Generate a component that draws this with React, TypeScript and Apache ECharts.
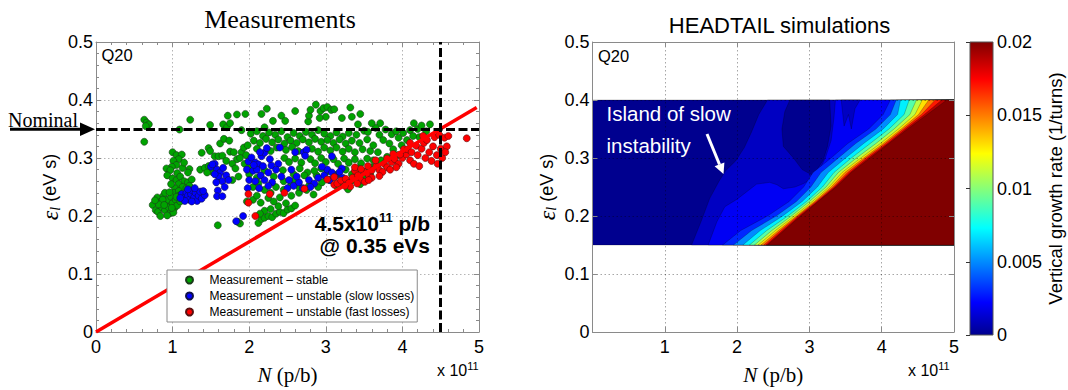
import React, { useEffect, useRef } from 'react';
import * as echarts from 'echarts';

const SANS = '"Liberation Sans", Arial, Helvetica, sans-serif';
const SERIF = '"Liberation Serif", "Times New Roman", Times, serif';

// ---------- Left panel: measurements (N in 1e11 p/b, emittance in eVs) ----------
const greenStable: number[][] = [
  [0.63, 0.366], [0.66, 0.361], [0.69, 0.358], [0.65, 0.355], [0.63, 0.328],
  [1.09, 0.349], [1.23, 0.366], [1.49, 0.357], [1.66, 0.358], [1.71, 0.353], [1.75, 0.36], [1.72, 0.373],
  [1.84, 0.375], [1.95, 0.376], [1.9, 0.348],
  [2.16, 0.376], [2.23, 0.385], [2.31, 0.364], [2.42, 0.373], [2.47, 0.364], [2.6, 0.381], [2.77, 0.363],
  [2.78, 0.373], [2.8, 0.383], [2.87, 0.392], [2.93, 0.381], [2.97, 0.386], [3.02, 0.388], [3.07, 0.383],
  [3.11, 0.384], [3.0, 0.371], [2.92, 0.369], [3.21, 0.369], [3.32, 0.387], [3.34, 0.371], [3.45, 0.376],
  [2.2, 0.353], [3.71, 0.36], [3.42, 0.358],
  [1.0, 0.31], [1.05, 0.305], [1.12, 0.306], [1.08, 0.298], [1.01, 0.295], [1.05, 0.288], [0.99, 0.285],
  [0.92, 0.282], [0.97, 0.279], [1.13, 0.283], [1.22, 0.281], [1.2, 0.275], [0.93, 0.27], [1.06, 0.274], [1.15, 0.292],
  [1.38, 0.309], [1.47, 0.317], [1.49, 0.312], [1.55, 0.303], [1.6, 0.303], [1.65, 0.304], [1.62, 0.325],
  [1.67, 0.333], [1.74, 0.33], [1.75, 0.311], [1.84, 0.298], [1.36, 0.28], [1.42, 0.283], [1.47, 0.286],
  [1.52, 0.276], [1.45, 0.275],
  [1.0, 0.265], [1.05, 0.262], [1.1, 0.268], [1.15, 0.26], [1.2, 0.258], [1.25, 0.263], [1.08, 0.255],
  [1.13, 0.25], [1.18, 0.248], [1.03, 0.248], [0.98, 0.255], [1.22, 0.252], [1.02, 0.24], [1.08, 0.243],
  [0.74, 0.219], [0.78, 0.21], [0.8, 0.232], [0.81, 0.207], [0.85, 0.225], [0.86, 0.215], [0.88, 0.235],
  [0.9, 0.21], [0.92, 0.22], [0.94, 0.228], [0.95, 0.215], [0.97, 0.205], [0.98, 0.233], [1.0, 0.222],
  [1.02, 0.213], [1.04, 0.228], [1.06, 0.218], [1.08, 0.235], [1.1, 0.225], [0.9, 0.24], [0.84, 0.2],
  [0.93, 0.201], [1.01, 0.206], [0.87, 0.228], [0.96, 0.241], [0.82, 0.22], [0.77, 0.227], [1.05, 0.233],
  [0.99, 0.214], [0.89, 0.219],
  [1.9, 0.31], [1.93, 0.318], [1.96, 0.305], [1.98, 0.322], [1.94, 0.29], [1.99, 0.283], [1.88, 0.3],
  [1.8, 0.31], [1.78, 0.29], [1.7, 0.295], [1.82, 0.282], [1.86, 0.268], [1.78, 0.262],
  [1.59, 0.184], [1.88, 0.187], [1.85, 0.19], [2.12, 0.188], [2.16, 0.195], [2.2, 0.197], [2.25, 0.2],
  [2.3, 0.198], [2.35, 0.204], [2.4, 0.207], [2.45, 0.205], [2.5, 0.211], [2.55, 0.213], [2.6, 0.218],
  [2.2, 0.209], [2.28, 0.212], [2.38, 0.217], [2.14, 0.204], [2.48, 0.222],
  [1.97, 0.225], [2.05, 0.228], [2.15, 0.223], [2.25, 0.231], [2.1, 0.235], [2.32, 0.225], [2.4, 0.232],
  [2.55, 0.235], [2.65, 0.24], [2.75, 0.245], [2.84, 0.237], [2.9, 0.25],
  [2.02, 0.342], [2.1, 0.346], [2.18, 0.338], [2.26, 0.344], [2.34, 0.34], [2.42, 0.346], [2.5, 0.336],
  [2.58, 0.343], [2.66, 0.338], [2.74, 0.345], [2.82, 0.34], [2.9, 0.348], [2.98, 0.342], [3.06, 0.338],
  [3.14, 0.344], [3.22, 0.337], [3.3, 0.343], [3.4, 0.34], [3.5, 0.347],
  [2.06, 0.33], [2.14, 0.326], [2.22, 0.333], [2.3, 0.327], [2.38, 0.332], [2.46, 0.325], [2.54, 0.33],
  [2.62, 0.326], [2.7, 0.332], [2.78, 0.327], [2.86, 0.333], [2.94, 0.328], [3.02, 0.331], [3.1, 0.326],
  [3.18, 0.332], [3.26, 0.325], [3.34, 0.33], [3.44, 0.326], [3.54, 0.332],
  [2.1, 0.316], [2.28, 0.312], [2.36, 0.318], [2.48, 0.314], [2.56, 0.319], [2.64, 0.312], [2.82, 0.316],
  [2.9, 0.311], [2.98, 0.318], [3.06, 0.313], [3.14, 0.318], [3.22, 0.311], [3.3, 0.316], [3.38, 0.31],
  [3.48, 0.315], [3.58, 0.312],
  [2.46, 0.3], [2.52, 0.293], [2.6, 0.299], [2.68, 0.292], [2.8, 0.298], [2.86, 0.291], [2.94, 0.3],
  [3.0, 0.293], [3.1, 0.298], [3.16, 0.29], [3.24, 0.299], [3.3, 0.292], [3.38, 0.298], [3.46, 0.291],
  [3.54, 0.299], [3.62, 0.296],
  [2.44, 0.279], [2.58, 0.272], [2.66, 0.282], [2.76, 0.275], [2.88, 0.27], [2.94, 0.282], [3.02, 0.277],
  [3.14, 0.271], [3.26, 0.28], [3.34, 0.272], [3.42, 0.282], [3.52, 0.276], [3.6, 0.284], [3.68, 0.289],
  [3.55, 0.345], [3.65, 0.352], [3.7, 0.34], [3.78, 0.349], [3.86, 0.341], [3.92, 0.346], [3.75, 0.331],
  [3.83, 0.325], [3.95, 0.335], [4.01, 0.343], [4.06, 0.331], [3.62, 0.322], [3.68, 0.31], [3.8, 0.302],
  [3.88, 0.315], [3.93, 0.305], [3.72, 0.296], [4.2, 0.35], [4.25, 0.356], [4.31, 0.346], [4.15, 0.36],
  [4.1, 0.348], [4.22, 0.336], [4.36, 0.358], [3.99, 0.322], [4.14, 0.338], [3.6, 0.36],
  [3.29, 0.246], [2.95, 0.258], [3.05, 0.262], [3.2, 0.258], [3.35, 0.262], [3.48, 0.268], [3.45, 0.255],
  [3.15, 0.25], [3.58, 0.272],
  [2.0, 0.272], [2.1, 0.266], [2.2, 0.279], [2.32, 0.268], [2.45, 0.26], [2.55, 0.255], [2.65, 0.25],
  [2.78, 0.252], [2.35, 0.25], [2.2, 0.245], [2.05, 0.25], [2.12, 0.256], [2.28, 0.24], [2.45, 0.245],
  [2.6, 0.262], [2.72, 0.27], [2.85, 0.278],
];

const blueSlow: number[][] = [
  [1.12, 0.238], [1.15, 0.232], [1.18, 0.24], [1.2, 0.235], [1.22, 0.228], [1.24, 0.238], [1.26, 0.244],
  [1.28, 0.232], [1.3, 0.24], [1.32, 0.226], [1.34, 0.235], [1.36, 0.242], [1.38, 0.23], [1.42, 0.236],
  [1.2, 0.246], [1.25, 0.225], [1.29, 0.248], [1.16, 0.226], [1.4, 0.243], [1.1, 0.231],
  [1.5, 0.285], [1.55, 0.29], [1.58, 0.28], [1.62, 0.275], [1.66, 0.283], [1.6, 0.268], [1.65, 0.26],
  [1.7, 0.27], [1.73, 0.262], [1.55, 0.272], [1.52, 0.289], [1.59, 0.244], [1.58, 0.234], [1.65, 0.234],
  [1.68, 0.25], [1.57, 0.258],
  [1.83, 0.191], [1.92, 0.2],
  [1.99, 0.294], [2.03, 0.301], [2.08, 0.292], [2.12, 0.289], [2.16, 0.303], [2.18, 0.286], [2.2, 0.309],
  [2.23, 0.317], [2.29, 0.287], [2.38, 0.29], [2.4, 0.318], [1.97, 0.28], [2.0, 0.262], [2.05, 0.278],
  [2.1, 0.28], [2.15, 0.27], [2.2, 0.262], [2.25, 0.275], [2.3, 0.258], [2.35, 0.28], [2.42, 0.268],
  [1.98, 0.248], [2.08, 0.26], [2.13, 0.248], [2.25, 0.252], [2.27, 0.298], [2.14, 0.31], [2.06, 0.288],
  [2.55, 0.28], [2.6, 0.31], [2.71, 0.31], [2.75, 0.314], [2.73, 0.304], [2.52, 0.262], [2.58, 0.252],
  [2.65, 0.258], [2.7, 0.248], [2.78, 0.262], [2.85, 0.256], [2.9, 0.266], [2.62, 0.268], [2.8, 0.25],
  [2.5, 0.248],
  [3.08, 0.303], [3.21, 0.282], [2.98, 0.27], [3.02, 0.28], [3.08, 0.275], [3.12, 0.268], [3.18, 0.276],
  [3.22, 0.266], [3.05, 0.262], [2.95, 0.285],
];

const redFast: number[][] = [
  [1.99, 0.238], [1.99, 0.223], [2.08, 0.2], [2.27, 0.238], [2.46, 0.24], [2.72, 0.247], [3.02, 0.263],
  [3.11, 0.267], [3.11, 0.254], [3.38, 0.278], [3.38, 0.284],
  [3.15, 0.256], [3.2, 0.261], [3.26, 0.264], [3.3, 0.257], [3.35, 0.266], [3.42, 0.27], [3.46, 0.262],
  [3.5, 0.276], [3.56, 0.27], [3.6, 0.279], [3.66, 0.286], [3.7, 0.279], [3.76, 0.29], [3.8, 0.284],
  [3.86, 0.293], [3.9, 0.298], [3.95, 0.29], [4.0, 0.3], [4.05, 0.306], [3.46, 0.281], [3.55, 0.286],
  [3.65, 0.296], [3.74, 0.276], [3.84, 0.28], [3.6, 0.266], [3.51, 0.259], [3.41, 0.256], [3.32, 0.251],
  [3.7, 0.269], [3.8, 0.299], [3.92, 0.284], [4.1, 0.296], [3.25, 0.252], [3.56, 0.262], [3.97, 0.306],
  [3.88, 0.307], [4.02, 0.315],
  [4.07, 0.315], [4.12, 0.31], [4.18, 0.321], [4.1, 0.326], [4.2, 0.305], [4.25, 0.316], [4.3, 0.3],
  [4.28, 0.326], [4.35, 0.31], [4.4, 0.32], [4.38, 0.295], [4.45, 0.305], [4.5, 0.316], [4.42, 0.336],
  [4.48, 0.34], [4.55, 0.335], [4.52, 0.3], [4.58, 0.32], [4.46, 0.29], [4.56, 0.31], [4.15, 0.29],
  [4.22, 0.286], [4.32, 0.331], [4.84, 0.334], [4.6, 0.338], [4.27, 0.338],
];

const thresholdN = [0, 4.97];
const thresholdEps = [0, 0.387];
const nominalEps = 0.35;
const limitN = 4.5;

// ---------- Right panel: HEADTAIL contour (growth rate levels of 0.001 1/turn) ----------
const levelStep = 0.001;
const colorbarMax = 0.02;
const contourEps = [0.15, 0.175, 0.2, 0.225, 0.25, 0.275, 0.3, 0.325, 0.35, 0.375, 0.4];
const transitionLevels = [3, 5, 7, 9, 11, 13, 15, 17, 19, 20];
// N (1e11) where each level is reached, one row per contourEps value
const transitionN: number[][] = [
  [1.80, 1.95, 2.08, 2.17, 2.24, 2.29, 2.33, 2.37, 2.40, 2.42],
  [2.05, 2.20, 2.32, 2.41, 2.48, 2.53, 2.57, 2.60, 2.63, 2.65],
  [2.42, 2.54, 2.63, 2.70, 2.75, 2.79, 2.82, 2.84, 2.86, 2.88],
  [2.72, 2.82, 2.90, 2.96, 3.00, 3.04, 3.07, 3.09, 3.11, 3.12],
  [2.92, 3.02, 3.11, 3.18, 3.23, 3.27, 3.30, 3.33, 3.35, 3.37],
  [3.05, 3.16, 3.26, 3.34, 3.40, 3.45, 3.49, 3.53, 3.56, 3.58],
  [3.30, 3.40, 3.50, 3.58, 3.65, 3.71, 3.75, 3.78, 3.81, 3.84],
  [3.53, 3.64, 3.75, 3.84, 3.92, 3.98, 4.02, 4.05, 4.08, 4.10],
  [3.82, 3.92, 4.02, 4.10, 4.17, 4.23, 4.27, 4.30, 4.33, 4.36],
  [4.02, 4.12, 4.22, 4.31, 4.39, 4.46, 4.51, 4.55, 4.59, 4.63],
  [4.12, 4.20, 4.26, 4.38, 4.48, 4.56, 4.65, 4.74, 4.83, 4.90],
];
const backgroundRegion = [[0, 0.15], [0, 0.4], [5, 0.4], [5, 0.15]];
const level1Region = [[1.37, 0.15], [1.5, 0.19], [1.62, 0.23], [1.75, 0.26], [1.84, 0.278], [1.98, 0.295],
  [2.1, 0.318], [2.2, 0.345], [2.3, 0.375], [2.42, 0.4], [5, 0.4], [5, 0.15]];
const level0Pocket = [[2.64, 0.32], [2.62, 0.35], [2.66, 0.38], [2.73, 0.4], [3.28, 0.4], [3.3, 0.355],
  [3.25, 0.32], [3.19, 0.296], [3.05, 0.27], [2.9, 0.28], [2.78, 0.3]];
const level2Region = [[1.6, 0.15], [1.72, 0.19], [1.83, 0.216], [2.0, 0.229], [2.27, 0.255], [2.45, 0.258],
  [2.55, 0.254], [2.64, 0.247], [2.8, 0.25], [2.92, 0.256], [3.1, 0.27], [3.22, 0.3], [3.3, 0.33],
  [3.34, 0.37], [3.36, 0.4], [5, 0.4], [5, 0.15]];
const level1Notch = [[3.44, 0.4], [3.48, 0.355], [3.54, 0.375], [3.58, 0.35], [3.63, 0.385], [3.7, 0.4]];

function jet(t: number): string {
  const x = 1 + 63 * Math.max(0, Math.min(1, t));
  const c = (v: number) => Math.round(255 * Math.max(0, Math.min(1, v)));
  const r = c(Math.min((x - 24) / 16, (72 - x) / 16));
  const g = c(Math.min((x - 8) / 16, (56 - x) / 16));
  const b = c(Math.min((x + 8) / 16, (40 - x) / 16));
  return `rgb(${r},${g},${b})`;
}

const polys: { level: number; pts: number[][] }[] = [
  { level: 0, pts: backgroundRegion },
  { level: 1, pts: level1Region },
  { level: 0, pts: level0Pocket },
  { level: 2, pts: level2Region },
  { level: 1, pts: level1Notch },
  ...transitionLevels.map((lv, j) => ({
    level: lv,
    pts: [...contourEps.map((e, i) => [transitionN[i][j], e]), [5, 0.4], [5, 0.15]],
  })),
];

function txt(x: number, y: number, text: string, o: any = {}) {
  const { align = 'left', ...rest } = o;
  return {
    type: 'text', x, y, z: 20,
    style: {
      text, fill: '#000', fontFamily: SANS, fontSize: 16,
      align, textAlign: align, verticalAlign: 'middle', textVerticalAlign: 'middle',
      ...rest,
    },
  };
}

const gridGray = '#8a8a8a';

function leftAxisCommon() {
  return {
    axisLine: { show: true, onZero: false, lineStyle: { color: gridGray, width: 1 } },
    axisTick: { show: true, inside: true, length: 5, lineStyle: { color: gridGray } },
    minorTick: { show: true, splitNumber: 5, length: 3, lineStyle: { color: gridGray } },
  };
}
function rightAxisCommon() {
  return {
    z: 6,
    axisLine: { show: true, onZero: false, lineStyle: { color: gridGray, width: 1 } },
    axisTick: { show: true, inside: true, length: 5, lineStyle: { color: gridGray } },
  };
}

const labelStyle = { color: '#000', fontSize: 18, fontFamily: SANS };
const nameRichX = {
  i: { fontFamily: SERIF, fontStyle: 'italic', fontSize: 21, color: '#000' },
  r: { fontFamily: SERIF, fontSize: 21, color: '#000' },
};
const nameRichY = {
  e: { fontFamily: SERIF, fontStyle: 'italic', fontSize: 24, color: '#000' },
  l: { fontFamily: SERIF, fontStyle: 'italic', fontSize: 14, color: '#000', verticalAlign: 'bottom', lineHeight: 14 },
  u: { fontFamily: SANS, fontSize: 18, color: '#000' },
};
const sup = {
  a: { fontFamily: SANS, fontSize: 16, lineHeight: 20, color: '#000' },
  b: { fontFamily: SANS, fontSize: 11, lineHeight: 11, verticalAlign: 'top', color: '#000' },
};

const option: any = {
  animation: false,
  backgroundColor: '#fff',
  grid: [
    { left: 96, top: 42, width: 383, height: 291.5 },
    { left: 592.5, top: 42, width: 361.5, height: 293 },
    { left: 970, top: 42, width: 23, height: 293 },
  ],
  xAxis: [
    {
      type: 'value', gridIndex: 0, min: 0, max: 5, interval: 1, position: 'bottom',
      ...leftAxisCommon(),
      axisLabel: { ...labelStyle, margin: 6 },
      splitLine: { show: true, lineStyle: { color: '#b5b5b5', type: [1.5, 2.5] } },
      name: '{i|N}{r| (p/b)}', nameLocation: 'middle', nameGap: 32,
      nameTextStyle: { rich: nameRichX },
    },
    {
      type: 'value', gridIndex: 0, min: 0, max: 5, interval: 1, position: 'top',
      ...leftAxisCommon(), axisLabel: { show: false }, splitLine: { show: false },
    },
    {
      type: 'value', gridIndex: 1, min: 0, max: 5, interval: 1, position: 'bottom',
      ...rightAxisCommon(),
      axisLabel: { ...labelStyle, margin: 6, formatter: (v: number) => (v === 0 ? '' : String(v)) },
      splitLine: { show: true, lineStyle: { color: 'rgba(0,0,0,0.35)', type: [1.5, 2.5] } },
      name: '{i|N}{r| (p/b)}', nameLocation: 'middle', nameGap: 32,
      nameTextStyle: { rich: nameRichX },
    },
    {
      type: 'value', gridIndex: 1, min: 0, max: 5, interval: 1, position: 'top',
      ...rightAxisCommon(), axisLabel: { show: false }, splitLine: { show: false },
    },
    { type: 'value', gridIndex: 2, min: 0, max: 1, show: false },
  ],
  yAxis: [
    {
      type: 'value', gridIndex: 0, min: 0, max: 0.5, interval: 0.1, position: 'left',
      ...leftAxisCommon(),
      axisLabel: { ...labelStyle, margin: 3 },
      splitLine: { show: true, lineStyle: { color: '#b5b5b5', type: [1.5, 2.5] } },
      name: '{e|ε}{l|l}{u| (eV s)}', nameLocation: 'middle', nameGap: 34, nameRotate: 90,
      nameTextStyle: { rich: nameRichY },
    },
    {
      type: 'value', gridIndex: 0, min: 0, max: 0.5, interval: 0.1, position: 'right',
      ...leftAxisCommon(), axisLabel: { show: false }, splitLine: { show: false },
    },
    {
      type: 'value', gridIndex: 1, min: 0, max: 0.5, interval: 0.1, position: 'left',
      ...rightAxisCommon(),
      axisLabel: { ...labelStyle, margin: 3 },
      splitLine: { show: true, lineStyle: { color: 'rgba(0,0,0,0.35)', type: [1.5, 2.5] } },
      name: '{e|ε}{l|l}{u| (eV s)}', nameLocation: 'middle', nameGap: 34, nameRotate: 90,
      nameTextStyle: { rich: nameRichY },
    },
    {
      type: 'value', gridIndex: 1, min: 0, max: 0.5, interval: 0.1, position: 'right',
      ...rightAxisCommon(), axisLabel: { show: false }, splitLine: { show: false },
    },
    {
      type: 'value', gridIndex: 2, min: 0, max: colorbarMax, interval: 0.005, position: 'right', z: 8,
      axisLine: { show: false },
      axisTick: { show: true, inside: true, length: 4, lineStyle: { color: '#333' } },
      axisLabel: { ...labelStyle, margin: 4 },
      splitLine: { show: false },
      name: 'Vertical growth rate (1/turns)', nameLocation: 'middle', nameGap: 52, nameRotate: 90,
      nameTextStyle: { fontFamily: SANS, fontSize: 18.5, color: '#000' },
    },
  ],
  legend: {
    left: 167, top: 270, orient: 'vertical', icon: 'circle',
    itemWidth: 30, itemHeight: 7, itemGap: 0, padding: [2, 3, 2, 18],
    backgroundColor: '#fff', borderColor: '#8a8a8a', borderWidth: 1, selectedMode: false,
    textStyle: { fontSize: 12, fontFamily: SANS, color: '#000', lineHeight: 16 },
    data: ['Measurement – stable', 'Measurement – unstable (slow losses)', 'Measurement – unstable (fast losses)'],
  },
  series: [
    {
      type: 'scatter', name: 'Measurement – stable', xAxisIndex: 0, yAxisIndex: 0, data: greenStable,
      symbolSize: 7, itemStyle: { color: '#00a300', borderColor: '#1b3a1b', borderWidth: 0.6, opacity: 1 },
    },
    {
      type: 'scatter', name: 'Measurement – unstable (slow losses)', xAxisIndex: 0, yAxisIndex: 0, data: blueSlow,
      symbolSize: 7, itemStyle: { color: '#0000ff', borderColor: '#10104a', borderWidth: 0.6, opacity: 1 },
    },
    {
      type: 'scatter', name: 'Measurement – unstable (fast losses)', xAxisIndex: 0, yAxisIndex: 0, data: redFast,
      symbolSize: 7, itemStyle: { color: '#ff0000', borderColor: '#5a1010', borderWidth: 0.6, opacity: 1 },
    },
    {
      type: 'line', name: 'threshold', xAxisIndex: 0, yAxisIndex: 0,
      data: thresholdN.map((n, i) => [n, thresholdEps[i]]),
      showSymbol: false, symbol: 'none', lineStyle: { color: '#ff0000', width: 3.5 },
      markLine: {
        silent: true, symbol: ['none', 'none'], label: { show: false },
        lineStyle: { color: '#000', width: 3, type: [9, 3.5] },
        data: [{ yAxis: nominalEps }, { xAxis: limitN }],
      },
    },
    {
      type: 'custom', name: 'contour', xAxisIndex: 2, yAxisIndex: 2, clip: true, silent: true,
      data: polys.map((p, i) => [p.pts[0][0], p.pts[0][1], i]),
      renderItem: (params: any, api: any) => {
        const p = polys[params.dataIndex];
        return {
          type: 'polygon',
          shape: { points: p.pts.map((pt) => api.coord(pt)) },
          style: { fill: jet((p.level * levelStep) / colorbarMax), stroke: 'rgba(0,0,0,0.45)', lineWidth: 0.5 },
        };
      },
    },
  ],
  graphic: [
    txt(280, 19, 'Measurements', { fontFamily: SERIF, fontSize: 26, align: 'center' }),
    txt(779.5, 25, 'HEADTAIL simulations', { fontSize: 22, align: 'center' }),
    txt(101.5, 55, 'Q20', { fontSize: 16.5 }),
    txt(598, 56, 'Q20', { fontSize: 16.5 }),
    txt(8, 119.5, 'Nominal', { fontFamily: SERIF, fontSize: 20, lineHeight: 15 }),
    { type: 'line', z: 20, shape: { x1: 10, y1: 129.3, x2: 86, y2: 129.3 }, style: { stroke: '#000', lineWidth: 3 } },
    { type: 'polygon', z: 20, shape: { points: [[80, 122.5], [95, 129.3], [80, 136]] }, style: { fill: '#000' } },
    txt(430, 223, '{a|4.5x10}{b|11}{a| p/b}', {
      align: 'right',
      rich: {
        a: { fontFamily: SANS, fontWeight: 'bold', fontSize: 21, lineHeight: 24, color: '#000' },
        b: { fontFamily: SANS, fontWeight: 'bold', fontSize: 13, lineHeight: 13, verticalAlign: 'top', color: '#000' },
      },
    }),
    txt(430, 245, '@ 0.35 eVs', { align: 'right', fontWeight: 'bold', fontSize: 21 }),
    txt(437, 370, '{a|x 10}{b|11}', { rich: sup }),
    txt(908, 370, '{a|x 10}{b|11}', { rich: sup }),
    {
      type: 'text', x: 606.5, y: 97.5, z: 20,
      style: {
        text: 'Island of slow\ninstability', fill: '#fff', fontFamily: SANS, fontSize: 20.5, lineHeight: 32,
        align: 'left', textAlign: 'left', verticalAlign: 'top', textVerticalAlign: 'top',
      },
    },
    { type: 'line', z: 20, shape: { x1: 707, y1: 134, x2: 719.5, y2: 164.5 }, style: { stroke: '#fff', lineWidth: 3 } },
    { type: 'polygon', z: 20, shape: { points: [[714.6, 166.2], [723.5, 174], [724.4, 162.4]] }, style: { fill: '#fff' } },
    {
      type: 'rect', z: 1, shape: { x: 970, y: 42, width: 23, height: 293 },
      style: {
        stroke: '#555', lineWidth: 1,
        fill: new echarts.graphic.LinearGradient(0, 0, 0, 1, [
          { offset: 0, color: '#800000' },
          { offset: 0.127, color: '#ff0000' },
          { offset: 0.381, color: '#ffff00' },
          { offset: 0.635, color: '#00ffff' },
          { offset: 0.889, color: '#0000ff' },
          { offset: 1, color: '#00008f' },
        ]),
      },
    },
  ],
};

export default function App() {
  const ref = useRef<HTMLDivElement>(null);
  useEffect(() => {
    document.body.style.margin = '0';
    const chart = echarts.init(ref.current!, null, { renderer: 'svg' });
    chart.setOption(option);
    return () => chart.dispose();
  }, []);
  return <div ref={ref} style={{ width: 1068, height: 390 }} />;
}
